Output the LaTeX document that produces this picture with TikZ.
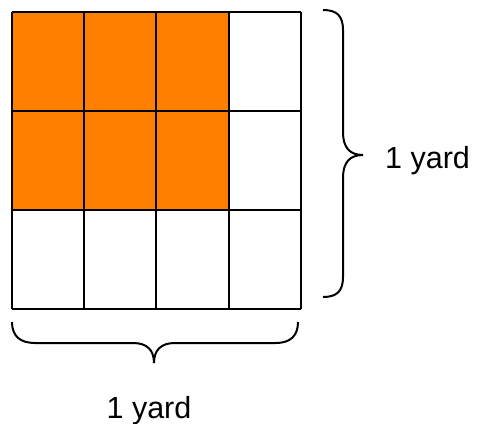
\documentclass[tikz,border=0pt]{standalone}
\usepackage{fontspec}
\setmainfont{Liberation Sans}
\definecolor{cellorange}{RGB}{255,128,0}
\begin{document}
\begin{tikzpicture}[x=1pt,y=-1pt,
  gridline/.style={line width=2pt,draw=black},
  bracelin/.style={line width=2pt,draw=black},
  lbl/.style={font=\fontsize{30.5}{36}\selectfont,inner sep=0pt}]
\useasboundingbox (0,0) rectangle (481,423);
% orange cells
\fill[cellorange] (12,12) rectangle (229,210);
% grid
\foreach \x in {12,84,156,229,301} \draw[gridline] (\x,12) -- (\x,309);
\foreach \y in {12,111,210,309} \draw[gridline] (12,\y) -- (301,\y);
% right brace
\draw[bracelin] (323,10) .. controls (337,10) and (343,16) .. (343,30) -- (343,132)
  .. controls (343,148) and (350,155) .. (363,155)
  .. controls (350,155) and (343,162) .. (343,178) -- (343,277)
  .. controls (343,291) and (337,297) .. (323,297);
% bottom brace
\draw[bracelin] (12,322) .. controls (12,336) and (20,343) .. (35,343) -- (133,343)
  .. controls (147,343) and (154,350) .. (154,363)
  .. controls (154,350) and (161,343) .. (175,343) -- (276,343)
  .. controls (290,343) and (298,336) .. (298,322);
\node[lbl,anchor=base west] (rlabel) at (385,168) {1 yard};
\node[lbl,anchor=base] (blabel) at (149,418) {1 yard};
\end{tikzpicture}
\end{document}
